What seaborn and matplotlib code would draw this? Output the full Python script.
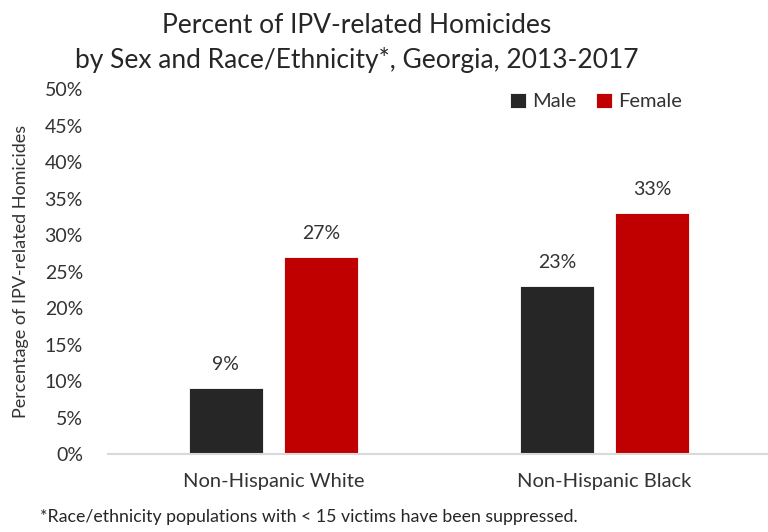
import matplotlib
matplotlib.use("Agg")
import matplotlib.pyplot as plt
import seaborn as sns
import pandas as pd

categories = ["Non-Hispanic White", "Non-Hispanic Black"]
sexes = ["Male", "Female"]
male_values = [9, 23]
female_values = [27, 33]
yticks = [0, 5, 10, 15, 20, 25, 30, 35, 40, 45, 50]
colors = {"Male": "#262626", "Female": "#C00000"}

df = pd.DataFrame({
    "Race": categories * 2,
    "Sex": ["Male"] * 2 + ["Female"] * 2,
    "Value": male_values + female_values,
})

sns.set_theme(style="white")
plt.rcParams["font.family"] = ["Lato", "DejaVu Sans"]
txt = "#333333"
W = "normal"

fig = plt.figure(figsize=(7.68, 5.32), dpi=100)
ax = fig.add_axes([0.1406, 0.1466, 0.862, 0.686])

sns.barplot(data=df, x="Race", y="Value", hue="Sex", order=categories,
            hue_order=sexes, palette=colors, saturation=1, width=0.576, gap=0.22,
            edgecolor="white", linewidth=0.6, ax=ax, legend=True)

for cont in ax.containers:
    ax.bar_label(cont, labels=[f"{v:.0f}%" for v in cont.datavalues],
                 padding=11, fontsize=14, color=txt, fontweight=W)

ax.set_xlim(-0.5, 1.5)
ax.set_ylim(0, 50)
ax.set_yticks(yticks)
ax.set_yticklabels([f"{t}%" for t in yticks], fontsize=14, color=txt, fontweight=W)
ax.tick_params(axis="x", labelsize=14.5, colors=txt, pad=14, length=0)
ax.tick_params(axis="y", length=0, pad=18)
for lab in ax.get_xticklabels():
    lab.set_fontweight(W)
ax.set_xlabel("")
ax.set_ylabel("Percentage of IPV-related Homicides", fontsize=13, color=txt,
              fontweight=W, labelpad=2)
ax.yaxis.set_label_coords(-0.12, 0.5)
for s in ["top", "right", "left"]:
    ax.spines[s].set_visible(False)
ax.spines["bottom"].set_color("#d9d9d9")
ax.spines["bottom"].set_linewidth(1.5)

handles, labels = ax.get_legend_handles_labels()
leg = ax.legend(handles, labels, loc="upper right", bbox_to_anchor=(0.895, 1.04),
                ncol=2, frameon=False, fontsize=14.5, handlelength=0.8,
                handleheight=0.8, handletextpad=0.3, columnspacing=1.0)
for t in leg.get_texts():
    t.set_color(txt)
    t.set_fontweight(W)

fig.text(0.465, 0.953, "Percent of IPV-related Homicides", ha="center", va="center",
         fontsize=19, color="#262626", fontweight=W)
fig.text(0.465, 0.888, "by Sex and Race/Ethnicity*, Georgia, 2013-2017", ha="center",
         va="center", fontsize=19, color="#262626", fontweight=W)
fig.text(0.052, 0.028, "*Race/ethnicity populations with < 15 victims have been suppressed.",
         ha="left", va="center", fontsize=12.8, color="#262626", fontweight=W)

fig.savefig("out.png", dpi=100)
